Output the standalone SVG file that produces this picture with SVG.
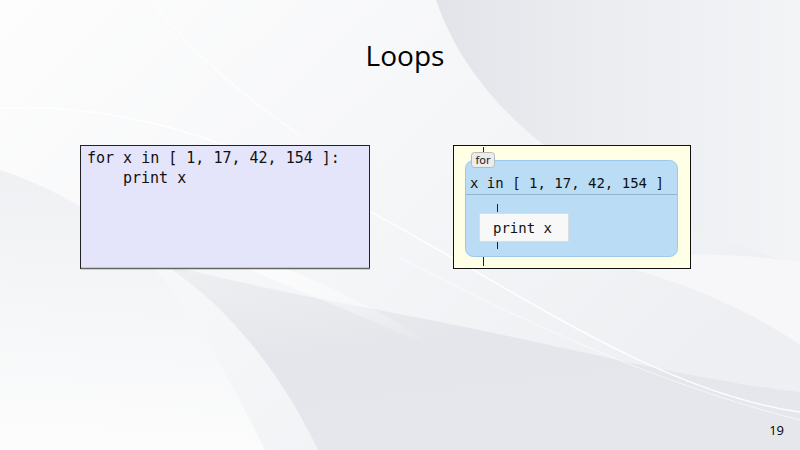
<svg xmlns="http://www.w3.org/2000/svg" width="800" height="450" viewBox="0 0 800 450">
  <defs>
    <linearGradient id="bg" x1="0" y1="0" x2="1" y2="0.6">
      <stop offset="0" stop-color="#fdfdfd"/>
      <stop offset="0.55" stop-color="#f5f6f8"/>
      <stop offset="1" stop-color="#eeeff2"/>
    </linearGradient>
    <linearGradient id="upper" x1="0" y1="0" x2="1" y2="0">
      <stop offset="0" stop-color="#e3e4e9"/>
      <stop offset="0.4" stop-color="#ebecf0"/>
      <stop offset="1" stop-color="#f3f4f6"/>
    </linearGradient>
    <linearGradient id="lower" x1="0" y1="0" x2="0.4" y2="1">
      <stop offset="0" stop-color="#eef0f2"/>
      <stop offset="0.5" stop-color="#e4e6eb"/>
      <stop offset="1" stop-color="#e6e7ec"/>
    </linearGradient>
    <linearGradient id="leftfade" x1="0" y1="0" x2="0" y2="1">
      <stop offset="0" stop-color="#eceef1"/>
      <stop offset="1" stop-color="#fefefe"/>
    </linearGradient>
    <linearGradient id="strip" x1="0" y1="0" x2="1" y2="1">
      <stop offset="0" stop-color="#ffffff" stop-opacity="0.7"/>
      <stop offset="1" stop-color="#ffffff" stop-opacity="0"/>
    </linearGradient>
    <style>
      .mono { font-family: "DejaVu Sans Mono", "Liberation Mono", monospace; fill: #111; }
      .tick { stroke: #222; stroke-width: 1; }
      .sheen { fill: none; stroke: #ffffff; }
    </style>
  </defs>

  <!-- slide background -->
  <rect width="800" height="450" fill="url(#bg)"/>
  <path d="M0 170 C90 200 150 250 200 330 C230 380 250 420 265 450 L0 450 Z" fill="url(#leftfade)" opacity="0.8"/>
  <path d="M436 0 C470 100 570 200 800 265 L800 0 Z" fill="url(#upper)"/>
  <path d="M160 262 C240 285 330 300 430 320 C560 345 690 380 800 392 L800 450 L318 450 C285 380 230 305 160 262 Z" fill="url(#lower)"/>
  <path d="M230 262 C300 290 370 320 440 350 C400 320 330 285 270 262 Z" fill="url(#strip)"/>
  <path d="M600 260 C680 280 750 310 800 345 L800 262 C720 250 650 255 600 260 Z" fill="#f9f9fb" opacity="0.8"/>
  <path class="sheen" d="M0 108 C160 100 300 170 430 245 C560 320 680 395 800 412" stroke-width="1.5" opacity="0.9"/>
  <path class="sheen" d="M400 258 C520 320 660 385 800 420" stroke-width="1" opacity="0.6"/>
  <path class="sheen" d="M150 0 C190 50 240 95 300 135" stroke-width="2" opacity="0.6"/>

  <!-- title -->
  <text x="405" y="66" text-anchor="middle" font-family="Open Sans, Noto Sans, sans-serif" font-size="28" fill="#000">Loops</text>

  <!-- source code listing -->
  <g id="code">
    <rect x="80.5" y="145.5" width="289" height="123" fill="#e4e4fa" stroke="#222" stroke-width="1"/>
    <line x1="81" y1="268.5" x2="370" y2="268.5" stroke="#666" stroke-width="1.5"/>
    <text class="mono" x="87" y="163" font-size="15">for x in [ 1, 17, 42, 154 ]:</text>
    <text class="mono" x="123" y="183" font-size="15">print x</text>
  </g>

  <!-- block view of the loop -->
  <g id="blocks">
    <rect x="453.5" y="145.5" width="237" height="123" fill="#ffffe6" stroke="#111" stroke-width="1"/>
    <line class="tick" x1="483.5" y1="147" x2="483.5" y2="153"/>
    <line class="tick" x1="483.5" y1="257" x2="483.5" y2="266"/>
    <g id="for-block">
      <rect x="465.5" y="160.5" width="212" height="96" rx="8" fill="#bbdcf5" stroke="#9ec8e8" stroke-width="1"/>
      <line x1="466" y1="194.5" x2="677" y2="194.5" stroke="#8fb4d2" stroke-width="1"/>
      <text class="mono" x="470" y="188" font-size="14">x in [ 1, 17, 42, 154 ]</text>
      <g id="for-tag">
        <rect x="471.5" y="152.5" width="23" height="15" rx="3" fill="#ececec" stroke="#b8b8b8" stroke-width="1"/>
        <text x="483" y="164" text-anchor="middle" font-family="DejaVu Sans, sans-serif" font-size="11" fill="#222">for</text>
      </g>
    </g>
    <line class="tick" x1="497.5" y1="204" x2="497.5" y2="212"/>
    <line class="tick" x1="497.5" y1="241" x2="497.5" y2="249"/>
    <g id="print-block">
      <rect x="479.5" y="213.5" width="89" height="28" fill="#f8f8f8" stroke="#dcdcdc" stroke-width="1"/>
      <text class="mono" x="493" y="233" font-size="14">print x</text>
    </g>
  </g>

  <!-- slide number -->
  <text x="784" y="435" text-anchor="end" font-family="Open Sans, Noto Sans, sans-serif" font-size="13" fill="#000">19</text>
</svg>
